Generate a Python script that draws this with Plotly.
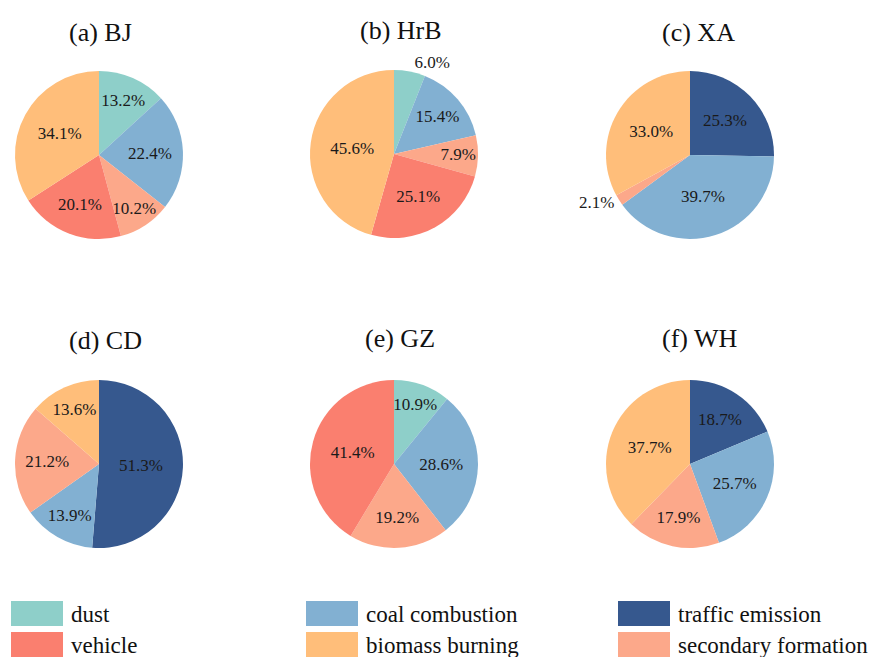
import plotly.graph_objects as go

W, H = 870, 657

# Source categories and their colours
sources = ["dust", "traffic emission", "coal combustion",
           "secondary formation", "vehicle", "biomass burning"]
colors = {
    "dust": "#8ECFC9",
    "traffic emission": "#36588E",
    "coal combustion": "#82B0D2",
    "secondary formation": "#FCA88A",
    "vehicle": "#FA7F6F",
    "biomass burning": "#FFBE7A",
}

# Source contributions (%) for each city, listed clockwise from 12 o'clock
titles = ["(a) BJ", "(b) HrB", "(c) XA", "(d) CD", "(e) GZ", "(f) WH"]

bj_labels = ["dust", "coal combustion", "secondary formation", "vehicle", "biomass burning"]
bj_values = [13.2, 22.4, 10.2, 20.1, 34.1]

hrb_labels = ["dust", "coal combustion", "secondary formation", "vehicle", "biomass burning"]
hrb_values = [6.0, 15.4, 7.9, 25.1, 45.6]

xa_labels = ["traffic emission", "coal combustion", "secondary formation", "biomass burning"]
xa_values = [25.3, 39.7, 2.1, 33.0]

cd_labels = ["traffic emission", "coal combustion", "secondary formation", "biomass burning"]
cd_values = [51.3, 13.9, 21.2, 13.6]

gz_labels = ["dust", "coal combustion", "secondary formation", "vehicle"]
gz_values = [10.9, 28.6, 19.2, 41.4]

wh_labels = ["traffic emission", "coal combustion", "secondary formation", "biomass burning"]
wh_values = [18.7, 25.7, 17.9, 37.7]

# Legend layout: two rows of three entries
legend_rows = [["dust", "coal combustion", "traffic emission"],
               ["vehicle", "biomass burning", "secondary formation"]]

pies = [
    (bj_labels, bj_values),
    (hrb_labels, hrb_values),
    (xa_labels, xa_values),
    (cd_labels, cd_values),
    (gz_labels, gz_values),
    (wh_labels, wh_values),
]

# Pixel geometry of the grid
centers = [(99, 155), (394, 154), (690, 155), (99, 464), (394, 464), (690, 464)]
radius = 84
title_pos = [(100, 32), (401, 30), (698, 32), (105, 340), (400, 338), (700, 338)]

FONT = "Liberation Serif, Times New Roman, serif"


def px_x(x):
    return x / W


def px_y(y):
    return 1 - y / H


fig = go.Figure()

for (labels, values), (cx, cy) in zip(pies, centers):
    positions = ["outside" if v < 7 else "inside" for v in values]
    fig.add_trace(go.Pie(
        labels=labels,
        values=values,
        sort=False,
        direction="clockwise",
        rotation=0,
        marker=dict(colors=[colors[l] for l in labels], line=dict(width=0)),
        texttemplate="%{value:.1f}%",
        textposition=positions,
        insidetextorientation="horizontal",
        textfont=dict(family=FONT, size=17, color="#1a1a1a"),
        hoverinfo="label+value",
        showlegend=False,
        domain=dict(x=[px_x(cx - radius), px_x(cx + radius)],
                    y=[px_y(cy + radius), px_y(cy - radius)]),
    ))

annotations = []
for t, (tx, ty) in zip(titles, title_pos):
    annotations.append(dict(
        text=t, x=px_x(tx), y=px_y(ty), xref="paper", yref="paper",
        xanchor="center", yanchor="middle", showarrow=False,
        font=dict(family=FONT, size=26, color="#111111"),
    ))

# Legend swatches and labels
shapes = []
col_x = [11, 306, 618]
row_y = [601, 632]
sw_w, sw_h = 52, 25
for r, row in enumerate(legend_rows):
    for c, name in enumerate(row):
        x0 = col_x[c]
        y0 = row_y[r]
        shapes.append(dict(
            type="rect", xref="paper", yref="paper",
            x0=px_x(x0), x1=px_x(x0 + sw_w),
            y0=px_y(y0 + sw_h), y1=px_y(y0),
            fillcolor=colors[name], line=dict(width=0),
        ))
        annotations.append(dict(
            text=name, x=px_x(x0 + sw_w + 6), y=px_y(y0 + sw_h / 2 + 1),
            xref="paper", yref="paper", xanchor="left", yanchor="middle",
            showarrow=False,
            font=dict(family=FONT, size=23, color="#111111"),
        ))

fig.update_layout(
    width=W, height=H,
    margin=dict(l=0, r=0, t=0, b=0),
    paper_bgcolor="white",
    plot_bgcolor="white",
    annotations=annotations,
    shapes=shapes,
    uniformtext=dict(minsize=17, mode="show"),
)

fig.write_html("out.html")
